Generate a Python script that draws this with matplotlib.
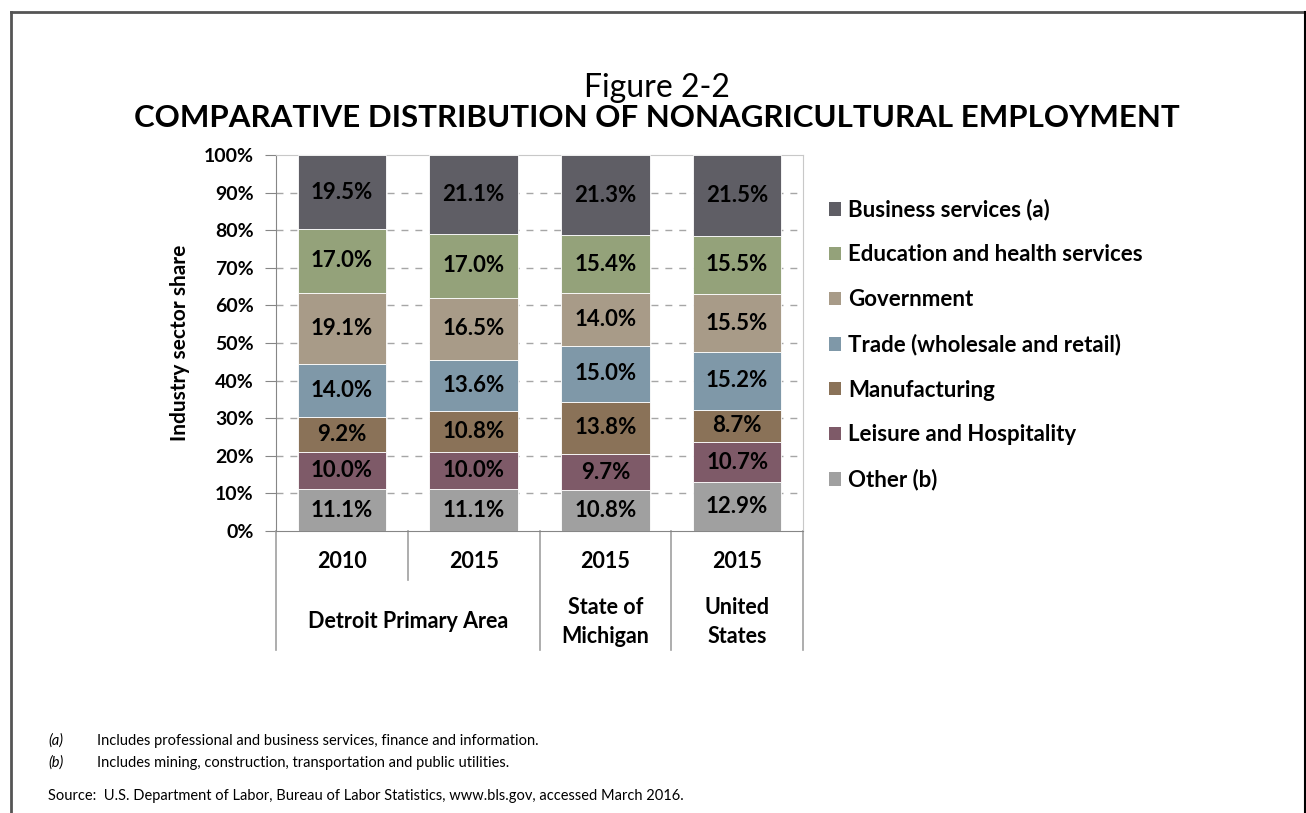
import numpy as np
import matplotlib
matplotlib.use("Agg")
import matplotlib.pyplot as plt
from matplotlib.lines import Line2D
from matplotlib.patches import Patch
import matplotlib.transforms as mtransforms

plt.rcParams['font.family'] = ['Lato', 'DejaVu Sans']

years = ["2010", "2015", "2015", "2015"]
groups = ["Detroit Primary Area", "State of\nMichigan", "United\nStates"]

sectors = ["Other (b)", "Leisure and Hospitality", "Manufacturing",
           "Trade (wholesale and retail)", "Government",
           "Education and health services", "Business services (a)"]
other = [11.1, 11.1, 10.8, 12.9]
leisure = [10.0, 10.0, 9.7, 10.7]
manufacturing = [9.2, 10.8, 13.8, 8.7]
trade = [14.0, 13.6, 15.0, 15.2]
government = [19.1, 16.5, 14.0, 15.5]
education = [17.0, 17.0, 15.4, 15.5]
business = [19.5, 21.1, 21.3, 21.5]

colors = ["#a0a0a0", "#7e5a68", "#8a7258", "#7f98a8", "#a89b88", "#94a27a", "#5f5e65"]

series = [other, leisure, manufacturing, trade, government, education, business]

fig = plt.figure(figsize=(13.06, 8.13), dpi=100)
ax = fig.add_axes([276 / 1306, 1 - 531 / 813, 527 / 1306, 376 / 813])

x = np.arange(len(years))
bottom = np.zeros(len(years))
for vals, col, name in zip(series, colors, sectors):
    v = np.array(vals) / 100.0
    ax.bar(x, v, 0.67, bottom=bottom, color=col, edgecolor='white', linewidth=0.6, label=name, zorder=3)
    for xi, vi, bi in zip(x, v, bottom):
        ax.text(xi, bi + vi / 2, "{0:.1f}%".format(vi * 100), ha='center', va='center',
                fontsize=16, fontweight='bold', color='black', zorder=4)
    bottom = bottom + v

ax.set_xlim(-0.5, 3.5)
ax.set_ylim(0, 1)
ax.set_yticks(np.arange(0, 1.01, 0.1))
ax.set_yticklabels(["{0}%".format(i * 10) for i in range(11)], fontsize=14, fontweight='bold')
ax.set_xticks([])
ax.tick_params(axis='y', length=8, color='#868686', pad=8)
for yv in np.arange(0.1, 0.91, 0.1):
    ax.axhline(yv, color='#a6a6a6', linestyle=(0, (5, 5)), linewidth=1, zorder=1)
ax.spines['left'].set_color('#868686')
ax.spines['bottom'].set_color('#868686')
ax.spines['top'].set_color('#c8c8c8')
ax.spines['right'].set_color('#c8c8c8')
ax.set_ylabel("Industry sector share", fontsize=15, fontweight='bold', labelpad=10)

# category axis below the plot
trans = mtransforms.blended_transform_factory(ax.transData, ax.transAxes)
for xi, yr in zip(x, years):
    ax.text(xi, -0.08, yr, transform=trans, ha='center', va='center', fontsize=15.5, fontweight='bold')
group_x = [0.5, 2, 3]
for gx, g in zip(group_x, groups):
    ax.text(gx, -0.242, g, transform=trans, ha='center', va='center', fontsize=15.5,
            fontweight='bold', linespacing=1.5)
for sx, sy in [(-0.5, -0.317), (0.5, -0.13), (1.5, -0.317), (2.5, -0.317), (3.5, -0.317)]:
    ax.add_line(Line2D([sx, sx], [0, sy], transform=trans, color='#a0a0a0', linewidth=1.2, clip_on=False))

handles = [Patch(facecolor=c) for c in colors[::-1]]
fig.legend(handles, sectors[::-1], loc='upper left', bbox_to_anchor=(829 / 1306, 1 - 199 / 813),
           frameon=False, handlelength=0.55, handleheight=0.55, handletextpad=0.3,
           borderpad=0, borderaxespad=0,
           labelspacing=1.07, prop={'weight': 'bold', 'size': 16})

fig.text(0.503, 1 - 88 / 813, "Figure 2-2", ha='center', va='center', fontsize=23)
fig.text(0.503, 1 - 118 / 813, "COMPARATIVE DISTRIBUTION OF NONAGRICULTURAL EMPLOYMENT",
         ha='center', va='center', fontsize=22.5, fontweight='bold')

fig.text(48 / 1306, 1 - 741 / 813, "(a)", style='italic', fontsize=10.5, va='center')
fig.text(97 / 1306, 1 - 741 / 813, "Includes professional and business services, finance and information.",
         fontsize=10.5, va='center')
fig.text(48 / 1306, 1 - 763 / 813, "(b)", style='italic', fontsize=10.5, va='center')
fig.text(97 / 1306, 1 - 763 / 813, "Includes mining, construction, transportation and public utilities.",
         fontsize=10.5, va='center')
fig.text(48 / 1306, 1 - 796 / 813,
         "Source:  U.S. Department of Labor, Bureau of Labor Statistics, www.bls.gov, accessed March 2016.",
         fontsize=10.5, va='center')

# outer frame
fig.add_artist(Line2D([11 / 1306, 11 / 1306], [0, 1 - 12 / 813], transform=fig.transFigure, color='#555555', linewidth=2))
fig.add_artist(Line2D([11 / 1306, 1305 / 1306], [1 - 12 / 813, 1 - 12 / 813], transform=fig.transFigure, color='#555555', linewidth=2))
fig.add_artist(Line2D([1305 / 1306, 1305 / 1306], [0, 1 - 12 / 813], transform=fig.transFigure, color='black', linewidth=1.5))

fig.savefig("out.png", dpi=100)
